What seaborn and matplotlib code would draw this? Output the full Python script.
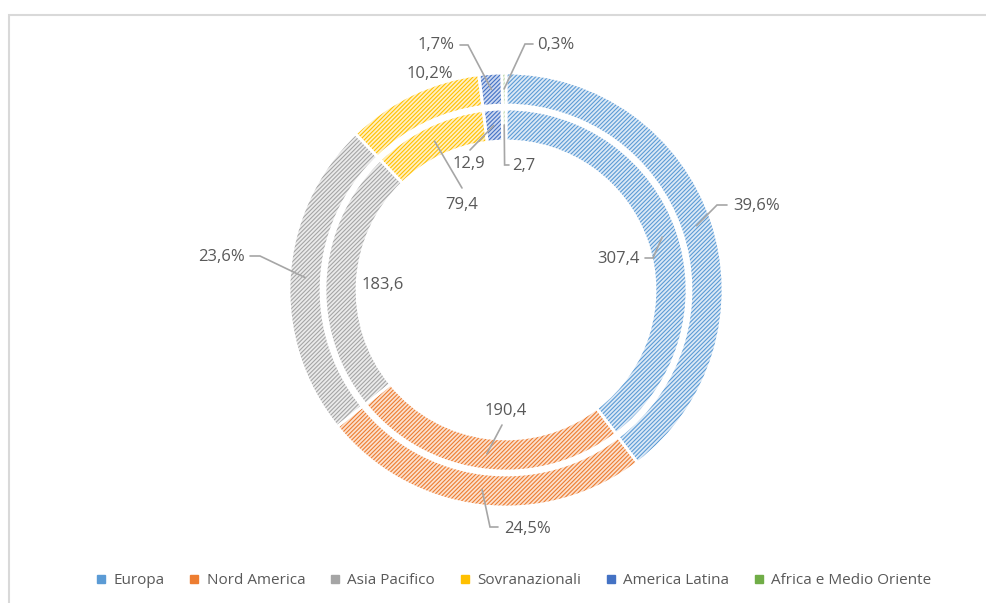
import matplotlib
matplotlib.use("Agg")
import numpy as np
import matplotlib.pyplot as plt
import seaborn as sns
from matplotlib.lines import Line2D
from matplotlib.patches import Rectangle

# Data
regions = ["Europa", "Nord America", "Asia Pacifico", "Sovranazionali",
           "America Latina", "Africa e Medio Oriente"]
amounts = [307.4, 190.4, 183.6, 79.4, 12.9, 2.7]   # inner ring
shares = [39.6, 24.5, 23.6, 10.2, 1.7, 0.3]         # outer ring (%)

# Styling
line_colors = ["#5B9BD5", "#ED7D31", "#A5A5A5", "#FFC000", "#4472C4", "#70AD47"]
fill_colors = ["#DCE9F6", "#FBE0CE", "#EBEBEB", "#FFF0C4", "#CCD8F0", "#DBEBD0"]
TEXT = "#595959"
LEADER = "#A6A6A6"

W, H = 986, 603
CX, CY = 506, 290           # ring centre, pixels from top-left
R_OUT, W_OUT = 217, 32
R_IN, W_IN = 181, 32

sns.set_theme(style="white")
plt.rcParams["font.family"] = ["Open Sans", "DejaVu Sans"]
plt.rcParams["hatch.linewidth"] = 0.8

fig = plt.figure(figsize=(W / 100, H / 100), dpi=100)
ax = fig.add_axes([0, 0, 1, 1])


def up(y):
    return H - y


def ring(values, radius, width):
    wedges, _ = ax.pie(values, radius=radius, center=(CX, up(CY)), startangle=90,
                       counterclock=False, colors=fill_colors, frame=False,
                       wedgeprops=dict(width=width, linewidth=0))
    for w, c in zip(wedges, line_colors):
        w.set_hatch("////////")
        w.set_edgecolor(c)
        w.set_linewidth(0)
    # white separators between the slices
    ax.pie(values, radius=radius, center=(CX, up(CY)), startangle=90,
           counterclock=False, frame=False,
           wedgeprops=dict(width=width, linewidth=2, edgecolor="white", fill=False))
    return wedges


def centroid(w):
    t = np.deg2rad((w.theta1 + w.theta2) / 2)
    r = w.r - w.width / 2
    return CX + r * np.cos(t), CY - r * np.sin(t)


outer = ring(shares, R_OUT, W_OUT)
inner = ring(amounts, R_IN, W_IN)

outer_layout = [
    dict(path=[(717, 205), (727, 205)], xy=(733, 206), ha="left"),
    dict(path=[(490, 527), (498, 527)], xy=(504, 529), ha="left"),
    dict(path=[(260, 256), (250, 256)], xy=(245, 257), ha="right"),
    dict(path=None, xy=(430, 74), ha="center"),
    dict(path=[(468, 45), (460, 45)], xy=(455, 45), ha="right"),
    dict(path=[(525, 44), (533, 44)], xy=(537, 45), ha="left"),
]
inner_layout = [
    dict(path=[(653, 258), (645, 258)], xy=(640, 259), ha="right"),
    dict(path=[(502, 425)], xy=(506, 411), ha="center"),
    dict(path=None, xy=(383, 285), ha="center"),
    dict(path=[(462, 188)], xy=(462, 205), ha="center"),
    dict(path=[(470, 150)], xy=(469, 164), ha="center"),
    dict(path=[(504.6, 165), (509, 165)], xy=(512, 166), ha="left"),
]


def fmt(v):
    return f"{v:.1f}".replace(".", ",")


def labels(wedges, values, layout, suffix):
    for w, v, lay in zip(wedges, values, layout):
        if lay["path"]:
            pts = [centroid(w)] + lay["path"]
            xs = [p[0] for p in pts]
            ys = [up(p[1]) for p in pts]
            ax.plot(xs, ys, color=LEADER, lw=1.2, solid_joinstyle="miter", zorder=5)
        x, y = lay["xy"]
        ax.text(x, up(y), fmt(v) + suffix, ha=lay["ha"], va="center",
                fontsize=12, color=TEXT, zorder=6)


labels(outer, shares, outer_layout, "%")
labels(inner, amounts, inner_layout, "")

# chart border
ax.add_patch(Rectangle((9, -20), W + 20, up(15) + 20, fill=False,
                       edgecolor="#D9D9D9", lw=1.5, clip_on=False))

ax.set_xlim(0, W)
ax.set_ylim(0, H)
ax.set_aspect("equal")
ax.axis("off")

handles = [Line2D([], [], marker="s", linestyle="none", markersize=5.5,
                  markerfacecolor=c, markeredgecolor=c) for c in line_colors]
fig.legend(handles, regions, loc="center", bbox_to_anchor=(514 / W, 1 - 581 / H),
           ncol=6, frameon=False, fontsize=11, handlelength=0.6, handletextpad=0.5,
           columnspacing=1.65, labelcolor=TEXT)

fig.savefig("out.png", dpi=100)
